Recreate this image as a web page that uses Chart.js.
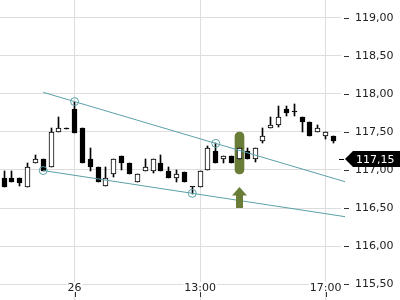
<!DOCTYPE html>
<html><head><meta charset="utf-8">
<script src="https://cdn.jsdelivr.net/npm/chart.js@4/dist/chart.umd.min.js"></script>
<style>html,body{margin:0;padding:0;background:#fff;overflow:hidden}#wrap{width:400px;height:300px;position:relative}</style>
</head><body><div id="wrap"><canvas id="c" width="400" height="300"></canvas></div>
<script>
// ---- data ----
const openP  = [116.895,116.895,116.895,116.776,117.092,117.145,117.039,117.500,117.545,117.803,
                117.553,117.145,117.039,116.789,116.947,117.184,117.092,116.842,116.987,116.987,
                117.092,116.987,116.895,116.974,116.776,116.776,117.000,117.250,117.145,117.184,
                117.145,117.250,117.145,117.382,117.553,117.592,117.803,117.763,117.697,117.632,
                117.500,117.447,117.447];
const highP  = [116.987,116.987,116.895,117.092,117.197,117.145,117.553,117.697,117.545,117.895,
                117.553,117.289,117.039,117.039,117.145,117.184,117.092,116.947,117.145,117.145,
                117.197,117.039,117.000,116.974,116.776,116.987,117.316,117.355,117.184,117.184,
                117.289,117.289,117.289,117.553,117.697,117.842,117.842,117.868,117.697,117.632,
                117.592,117.500,117.447];
const lowP   = [116.776,116.842,116.789,116.776,117.092,116.987,117.039,117.500,117.545,117.487,
                117.092,116.987,116.836,116.789,116.908,117.000,116.947,116.842,116.987,116.961,
                116.987,116.895,116.842,116.842,116.684,116.776,117.000,117.092,117.092,117.092,
                117.145,117.145,117.105,117.355,117.553,117.566,117.711,117.711,117.500,117.447,
                117.500,117.408,117.355];
const closeP = [116.776,116.842,116.829,117.039,117.145,116.987,117.500,117.553,117.545,117.487,
                117.092,117.039,116.836,116.895,117.145,117.092,116.947,116.947,117.039,117.145,
                116.987,116.895,116.947,116.842,116.776,116.987,117.289,117.092,117.184,117.092,
                117.289,117.145,117.289,117.447,117.592,117.697,117.750,117.763,117.632,117.447,
                117.553,117.500,117.382];
const xTickPositions = [9, 25, 41];
const xTickLabels = ['26', '13:00', '17:00'];
const yTicks = [115.5, 116.0, 116.5, 117.0, 117.5, 118.0, 118.5, 119.0];
const upperTrendX = [5, 43.47];
const upperTrendY = [118.022, 116.846];
const lowerTrendX = [5, 43.47];
const lowerTrendY = [116.993, 116.386];
const touchX = [9, 27, 5, 24];
const touchY = [117.900, 117.350, 116.993, 116.693];
const highlightX = 30;
const highlightRange = [116.95, 117.50];
const arrowX = 30;
const arrowTip = 116.776;
const arrowBase = 116.50;
const lastPrice = 117.15;

// ---- styles ----
const TEAL = '#5aa0a8';
const GREEN = '#6a7d38';
const GRID = '#dddddd';
const FONT = 'DejaVu Sans';
const fmt = v => v.toFixed(2).replace('.', ',');

const idx = openP.map((_, i) => i);

const snap = {
  id: 'snap',
  afterDatasetsUpdate(chart) {
    chart.data.datasets.forEach((ds, di) => {
      const meta = chart.getDatasetMeta(di);
      if (meta.type !== 'bar') return;
      meta.data.forEach(el => {
        const w = el.width;
        el.x = Math.round(el.x - w / 2) + w / 2;
        el.y = Math.round(el.y);
        el.base = Math.round(el.base);
      });
    });
  }
};

const overlay = {
  id: 'overlay',
  afterDatasetsDraw(chart) {
    const ctx = chart.ctx, xs = chart.scales.x, ys = chart.scales.y;
    const ax = Math.round(xs.getPixelForValue(arrowX) - 0.5) + 0.5;
    const tipY = ys.getPixelForValue(arrowTip);
    const baseY = ys.getPixelForValue(arrowBase);
    ctx.save();
    ctx.fillStyle = GREEN;
    ctx.beginPath();
    ctx.moveTo(ax, tipY);
    ctx.lineTo(ax + 7.5, tipY + 8.5);
    ctx.lineTo(ax + 3.5, tipY + 8.5);
    ctx.lineTo(ax + 3.5, baseY);
    ctx.lineTo(ax - 3.5, baseY);
    ctx.lineTo(ax - 3.5, tipY + 8.5);
    ctx.lineTo(ax - 7.5, tipY + 8.5);
    ctx.closePath();
    ctx.fill();
    ctx.restore();
  },
  afterDraw(chart) {
    const ctx = chart.ctx, xs = chart.scales.x, ys = chart.scales.y, ca = chart.chartArea;
    ctx.save();
    ctx.lineWidth = 1;
    ctx.strokeStyle = '#333';
    yTicks.forEach(v => {
      const y = Math.round(ys.getPixelForValue(v)) + 0.5;
      ctx.beginPath(); ctx.moveTo(ca.right + 3, y); ctx.lineTo(ca.right + 8, y); ctx.stroke();
    });
    ctx.font = '11px "' + FONT + '"';
    ctx.textAlign = 'center';
    ctx.textBaseline = 'alphabetic';
    xTickPositions.forEach((p, i) => {
      const x = xs.getPixelForValue(p);
      const w = ctx.measureText(xTickLabels[i]).width;
      ctx.fillStyle = '#fff';
      ctx.fillRect(x - w / 2 - 1, 282, w + 2, 10);
      ctx.fillStyle = '#222';
      ctx.fillText(xTickLabels[i], x, 291);
      const xx = Math.round(x) + 0.5;
      ctx.beginPath(); ctx.moveTo(xx, 292); ctx.lineTo(xx, 297); ctx.stroke();
    });
    // last price tag
    const py = Math.round(ys.getPixelForValue(lastPrice));
    const x0 = ca.right + 4;
    ctx.strokeStyle = '#000';
    ctx.beginPath(); ctx.moveTo(ca.right - 2, py + 0.5); ctx.lineTo(ca.right + 3, py + 0.5); ctx.stroke();
    ctx.fillStyle = '#000';
    ctx.beginPath();
    ctx.moveTo(x0, py);
    ctx.lineTo(x0 + 8, py - 8);
    ctx.lineTo(400, py - 8);
    ctx.lineTo(400, py + 8);
    ctx.lineTo(x0 + 8, py + 8);
    ctx.closePath();
    ctx.fill();
    ctx.fillStyle = '#fff';
    ctx.textAlign = 'left';
    ctx.textBaseline = 'middle';
    ctx.fillText(fmt(lastPrice), ca.right + 15, py + 1);
    ctx.restore();
  }
};

new Chart(document.getElementById('c'), {
  type: 'bar',
  data: {
    datasets: [
      { type: 'line', data: upperTrendX.map((x, i) => ({ x, y: upperTrendY[i] })),
        borderColor: TEAL, borderWidth: 1, pointRadius: 0, clip: false, order: 0 },
      { type: 'line', data: lowerTrendX.map((x, i) => ({ x, y: lowerTrendY[i] })),
        borderColor: TEAL, borderWidth: 1, pointRadius: 0, clip: false, order: 0 },
      { type: 'scatter', data: touchX.map((x, i) => ({ x, y: touchY[i] })),
        pointRadius: 4, pointBorderColor: TEAL, pointBackgroundColor: 'rgba(0,0,0,0)',
        pointBorderWidth: 1, clip: false, order: 0 },
      { data: idx.map(i => ({ x: i, y: [openP[i], closeP[i]] })),
        barThickness: 5, grouped: false, minBarLength: 1,
        backgroundColor: idx.map(i => closeP[i] > openP[i] ? '#ffffff' : '#000000'),
        borderColor: '#000', borderWidth: 1, borderSkipped: false, order: 1 },
      { data: idx.map(i => ({ x: i, y: [lowP[i], highP[i]] })),
        barThickness: 1, grouped: false, minBarLength: 1,
        backgroundColor: '#000', borderWidth: 0, order: 2 },
      { data: [{ x: highlightX, y: highlightRange }],
        barThickness: 9, grouped: false, borderRadius: 5, borderSkipped: false,
        backgroundColor: GREEN, borderWidth: 0, order: 3 }
    ]
  },
  options: {
    responsive: false,
    animation: false,
    events: [],
    layout: { padding: 0, autoPadding: false },
    plugins: { legend: { display: false }, tooltip: { enabled: false } },
    scales: {
      x: {
        type: 'linear', min: -0.51, max: 42.96, offset: false,
        afterBuildTicks: s => { s.ticks = xTickPositions.map(v => ({ value: v })); },
        afterFit: s => { s.height = 0; s.paddingLeft = 0; s.paddingRight = 0; },
        grid: { color: GRID, drawTicks: false, offset: false },
        border: { display: false },
        ticks: { display: false }
      },
      y: {
        position: 'right', min: 115.2895, max: 119.2368,
        afterBuildTicks: s => { s.ticks = yTicks.map(v => ({ value: v })); },
        afterFit: s => { s.width = 59; s.paddingTop = 0; s.paddingBottom = 0; },
        grid: { color: GRID, drawTicks: false },
        border: { display: false },
        ticks: { padding: 14, color: '#222', font: { family: FONT, size: 11 }, callback: v => fmt(v) }
      }
    }
  },
  plugins: [snap, overlay]
});
</script>
</body></html>
